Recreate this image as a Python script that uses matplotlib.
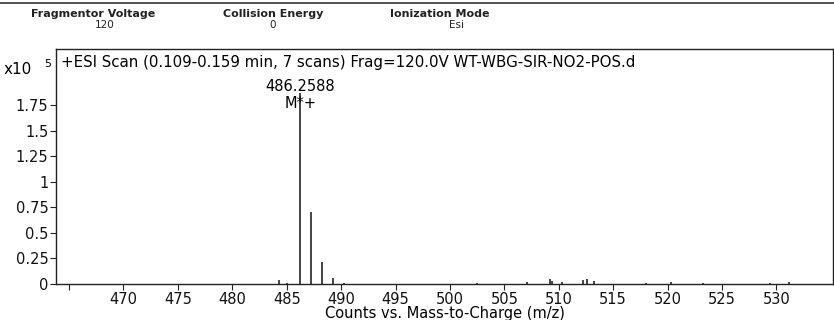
import matplotlib.pyplot as plt
from matplotlib.lines import Line2D

# header fields of the acquisition
header_names = ["Fragmentor Voltage", "Collision Energy", "Ionization Mode"]
header_values = ["120", "0", "Esi"]

# centroided peaks: m/z and counts
peak_mz = [484.30, 485.00, 486.2588, 487.26, 488.26, 489.27, 490.30, 502.50,
           507.10, 509.20, 509.40, 510.30, 512.20, 512.60, 513.20, 518.00,
           520.30, 523.30, 529.40, 531.20]
peak_counts = [3500, 1000, 186500, 70000, 21500, 6000, 1000, 1000,
               1500, 5000, 3000, 2000, 4000, 4500, 3000, 1000,
               1500, 1000, 1000, 1500]

xticks = [465, 470, 475, 480, 485, 490, 495, 500, 505, 510, 515, 520, 525, 530]
yticks = [0, 0.25, 0.5, 0.75, 1, 1.25, 1.5, 1.75]
ytick_labels = ["0", "0.25", "0.5", "0.75", "1", "1.25", "1.5", "1.75"]

scan_title = "+ESI Scan (0.109-0.159 min, 7 scans) Frag=120.0V WT-WBG-SIR-NO2-POS.d"
scale = 1e5
fs = 10.5

plt.rcParams['font.family'] = ['DejaVu Sans']

fig = plt.figure(figsize=(8.34, 3.2), dpi=100)
ax = fig.add_axes([56 / 834, 1 - 284 / 320, 777 / 834, 235 / 320])

ax.vlines(peak_mz, 0, [c / scale for c in peak_counts], color='#111111', lw=1.1)

ax.set_xlim(463.8, 535.2)
ax.set_ylim(0, 2.3)
ax.set_xticks(xticks)
ax.set_xticklabels([str(t) if t != 465 else "" for t in xticks], fontsize=fs)
ax.set_yticks(yticks)
ax.set_yticklabels(ytick_labels, fontsize=fs)
ax.tick_params(axis='both', direction='out', length=4, width=0.8, pad=1.5, colors='#222222')
ax.tick_params(axis='both', labelcolor='#111111')
for sp in ax.spines.values():
    sp.set_linewidth(1.0)
    sp.set_color('#222222')

ax.set_xlabel("Counts vs. Mass-to-Charge (m/z)", fontsize=fs, va='top')
ax.xaxis.set_label_coords(0.5, -0.092)

# base peak annotation
top = peak_counts[2] / scale
ax.text(peak_mz[2], top + 0.07, f"{peak_mz[2]:.4f}", ha='center', va='center', fontsize=fs)
ax.text(peak_mz[2], top - 0.10, "M*+", ha='center', va='center', fontsize=fs)

ax.text(0.006, 0.975, scan_title, transform=ax.transAxes, ha='left', va='top', fontsize=10.8)

fig.text(4 / 834, 1 - 70 / 320, "x10", fontsize=11, va='center', ha='left')
fig.text(44 / 834, 1 - 64 / 320, "5", fontsize=8, va='center', ha='left')

# header strip
fig.add_artist(Line2D([0, 1], [1 - 3 / 320, 1 - 3 / 320], color='#333333', lw=1.2))
header_x = [93, 273, 440]
value_x = [105, 273, 456]
for x, vx, name, val in zip(header_x, value_x, header_names, header_values):
    fig.text(x / 834, 1 - 14 / 320, name, ha='center', va='center', fontsize=8,
             fontweight='bold', color='#222222')
    fig.text(vx / 834, 1 - 25 / 320, val, ha='center', va='center', fontsize=7.5,
             color='#222222')

fig.savefig("out.png", dpi=100)
